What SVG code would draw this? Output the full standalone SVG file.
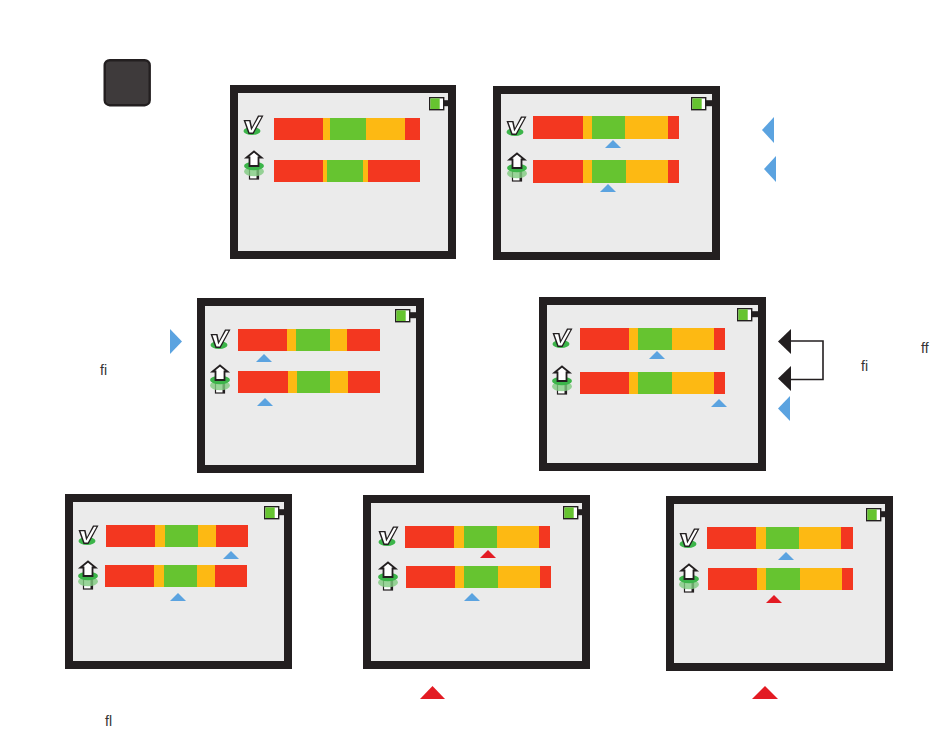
<svg xmlns="http://www.w3.org/2000/svg" width="950" height="746" viewBox="0 0 950 746">
<style>
.frame{fill:#ebebeb;stroke:#231f20;stroke-width:8}
.r{fill:#f33720}.o{fill:#fdb913}.g{fill:#66c430}
.blue{fill:#5ba3e0}.red{fill:#e31b23}.black{fill:#231f20}
.lbl{font-family:"Liberation Sans",Arial,sans-serif;font-size:14px;fill:#333}
.wire{fill:none;stroke:#231f20;stroke-width:1.6}
</style>
<defs>
<g id="check">
<ellipse cx="0" cy="6" rx="8.500" ry="4" fill="#3cb54a"/>
<path d="M-8.500-5H-1.500L0 2L6-9.500H11.500L1.500 9H-3.500Z" fill="#231f20"/>
<path d="M-6.500-3.800H-2.800L-0.800 5.500L7-8.300H9.500L0.800 7.500H-2.500Z" fill="#fff"/>
</g>
<g id="arrow">
<rect x="-4.500" y="0" width="9" height="13" fill="#fff" stroke="#231f20" stroke-width="1.200"/>
<rect x="2.500" y="0" width="2.500" height="13" fill="#231f20"/>
<ellipse cx="0" cy="5.500" rx="10" ry="4.800" fill="#7fcb7f" opacity="0.800"/>
<ellipse cx="0" cy="0" rx="10" ry="4.200" fill="#3cb54a"/>
<path d="M0-14.500L7.500-8.500H4.500V0H-4.500V-8.500H-7.500Z" fill="#fff" stroke="#231f20" stroke-width="1.800"/>
</g>
<g id="battery">
<rect x="0.700" y="0.700" width="14" height="12" fill="#fff" stroke="#231f20" stroke-width="1.400"/>
<rect x="1.400" y="1.400" width="9.300" height="10.600" fill="#66c430"/>
<rect x="15" y="3.200" width="6" height="6" fill="#231f20"/>
</g>
<path id="tri" d="M0 8L8 0L16 8Z"/>
</defs>

<g id="button">
<rect x="104.700" y="60.200" width="45" height="45" rx="5" fill="#3e3a3b" stroke="#231f20" stroke-width="2.400"/>
</g>

<g id="screen1">
<rect class="frame" x="234" y="89" width="218" height="166"/>
<use href="#battery" x="429" y="97"/>
<use href="#check" x="252" y="125"/>
<use href="#arrow" x="254" y="166"/>
<path class="r" d="M274 118h146v22H274z"/><path class="o" d="M323 118h7v22h-7zM366 118h39v22h-39z"/><path class="g" d="M330 118h36v22h-36z"/>
<path class="r" d="M274 160h146v22H274z"/><path class="o" d="M323 160h4v22h-4zM363 160h5v22h-5z"/><path class="g" d="M327 160h36v22h-36z"/>
</g>

<g id="screen2">
<rect class="frame" x="497" y="90" width="219" height="166"/>
<use href="#battery" x="691" y="97"/>
<use href="#check" x="515" y="126"/>
<use href="#arrow" x="517" y="168"/>
<path class="r" d="M533 116h146v23H533z"/><path class="o" d="M583 116h9v23h-9zM625 116h43v23h-43z"/><path class="g" d="M592 116h33v23h-33z"/>
<path class="r" d="M533 160h146v23H533z"/><path class="o" d="M583 160h9v23h-9zM626 160h42v23h-42z"/><path class="g" d="M592 160h34v23h-34z"/>
<use href="#tri" class="blue" x="605" y="140"/>
<use href="#tri" class="blue" x="600" y="184"/>
</g>

<g id="screen3">
<rect class="frame" x="201" y="302" width="219" height="167"/>
<use href="#battery" x="395" y="309"/>
<use href="#check" x="219" y="339"/>
<use href="#arrow" x="220" y="380"/>
<path class="r" d="M238 329h142v22H238z"/><path class="o" d="M287 329h9v22h-9zM330 329h17v22h-17z"/><path class="g" d="M296 329h34v22h-34z"/>
<path class="r" d="M238 371h142v22H238z"/><path class="o" d="M288 371h9v22h-9zM330 371h18v22h-18z"/><path class="g" d="M297 371h33v22h-33z"/>
<use href="#tri" class="blue" x="256" y="354"/>
<use href="#tri" class="blue" x="257" y="398"/>
</g>

<g id="screen4">
<rect class="frame" x="543" y="301" width="219" height="166"/>
<use href="#battery" x="737" y="308"/>
<use href="#check" x="561" y="338"/>
<use href="#arrow" x="562" y="381"/>
<path class="r" d="M580 328h145v22H580z"/><path class="o" d="M629 328h9v22h-9zM672 328h42v22h-42z"/><path class="g" d="M638 328h34v22h-34z"/>
<path class="r" d="M580 372h145v22H580z"/><path class="o" d="M629 372h9v22h-9zM672 372h42v22h-42z"/><path class="g" d="M638 372h34v22h-34z"/>
<use href="#tri" class="blue" x="649" y="351"/>
<use href="#tri" class="blue" x="711" y="399"/>
</g>

<g id="screen5">
<rect class="frame" x="69" y="498" width="219" height="167"/>
<use href="#battery" x="264" y="506"/>
<use href="#check" x="87" y="535"/>
<use href="#arrow" x="88" y="576"/>
<path class="r" d="M106 525h142v22H106z"/><path class="o" d="M155 525h10v22h-10zM198 525h18v22h-18z"/><path class="g" d="M165 525h33v22h-33z"/>
<path class="r" d="M105 565h142v22H105z"/><path class="o" d="M154 565h10v22h-10zM197 565h18v22h-18z"/><path class="g" d="M164 565h33v22h-33z"/>
<use href="#tri" class="blue" x="223" y="551"/>
<use href="#tri" class="blue" x="170" y="593"/>
</g>

<g id="screen6">
<rect class="frame" x="367" y="499" width="219" height="166"/>
<use href="#battery" x="563" y="506"/>
<use href="#check" x="387" y="536"/>
<use href="#arrow" x="388" y="577"/>
<path class="r" d="M405 526h145v22H405z"/><path class="o" d="M454 526h10v22h-10zM497 526h42v22h-42z"/><path class="g" d="M464 526h33v22h-33z"/>
<path class="r" d="M406 566h145v22H406z"/><path class="o" d="M455 566h9v22h-9zM498 566h42v22h-42z"/><path class="g" d="M464 566h34v22h-34z"/>
<use href="#tri" class="red" x="480" y="550"/>
<use href="#tri" class="blue" x="464" y="593"/>
</g>

<g id="screen7">
<rect class="frame" x="670" y="500" width="219" height="167"/>
<use href="#battery" x="866" y="508"/>
<use href="#check" x="688" y="538"/>
<use href="#arrow" x="689" y="579"/>
<path class="r" d="M707 527h146v22H707z"/><path class="o" d="M756 527h10v22h-10zM799 527h42v22h-42z"/><path class="g" d="M766 527h33v22h-33z"/>
<path class="r" d="M708 568h145v22H708z"/><path class="o" d="M757 568h9v22h-9zM800 568h42v22h-42z"/><path class="g" d="M766 568h34v22h-34z"/>
<use href="#tri" class="blue" x="778" y="552"/>
<use href="#tri" class="red" x="766" y="595"/>
</g>

<g id="connectors">
<path class="wire" d="M790 341H823V379.500H790"/>
</g>

<g id="pointers">
<path class="blue" d="M774 117V143L762 130Z"/>
<path class="blue" d="M776 156V182L764 169Z"/>
<path class="blue" d="M170 329V354L182 341.500Z"/>
<path class="black" d="M791 329V354L778 341.500Z"/>
<path class="black" d="M791 366V391L778 378.500Z"/>
<path class="blue" d="M790 396V421L778 408.500Z"/>
<path class="red" d="M420 699L432.500 686L445 699Z"/>
<path class="red" d="M752 699L765 686L778 699Z"/>
</g>

<g id="labels">
<text class="lbl" x="100" y="375">fi</text>
<text class="lbl" x="105" y="726">fl</text>
<text class="lbl" x="861" y="371">fi</text>
<text class="lbl" x="921" y="353">ff</text>
</g>
</svg>
